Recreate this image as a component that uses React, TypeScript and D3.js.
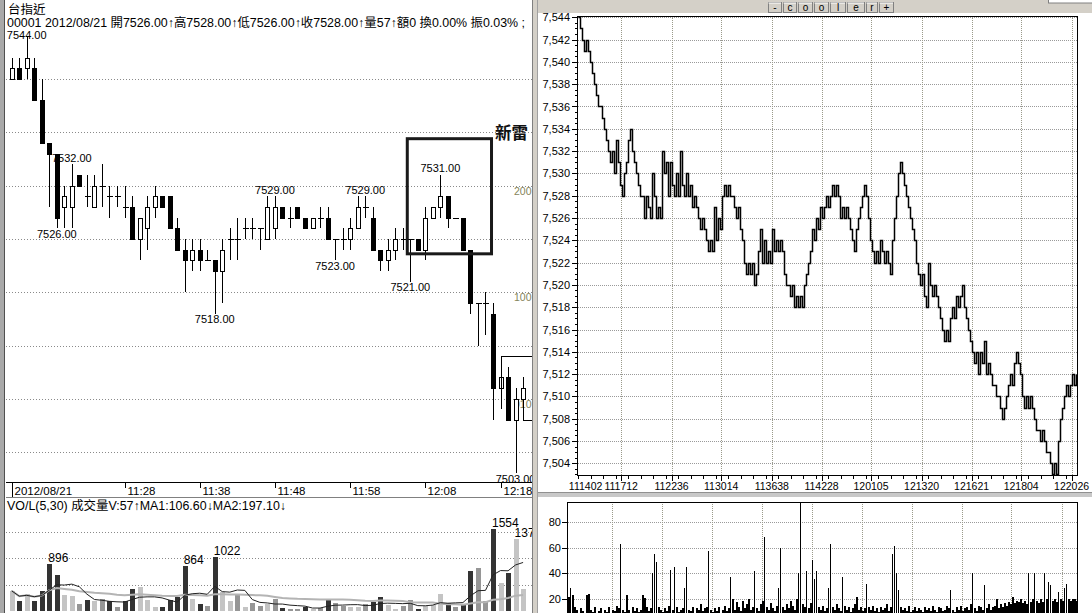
import React from 'react';
import * as d3 from 'd3';

// ---------- Left: 1-minute candles (11:13 .. 12:21) ----------
const candleOpen = [7540,7541,7541,7541,7538,7534,7533,7528,7528,7531, 7529,7528,7530,7529,7529,7528,7528,7525,7526,7528, 7529,7529,7526,7524,7523,7524,7523,7523,7522,7525, 7525,7526,7526,7526,7525,7526,7528,7527,7528,7527, 7526,7527,7527,7525,7525,7525,7526,7528,7527,7524, 7523,7524,7525,7525,7525,7524,7527,7528,7529,7527, 7527,7524,7519,7519,7518,7511,7512,7508,7510];
const candleHigh = [7542,7542,7544,7542,7540,7534,7533,7530,7532,7531, 7531,7531,7532,7530,7530,7530,7529,7527,7529,7530, 7529,7529,7527,7525,7525,7525,7524,7523,7525,7526, 7527,7527,7527,7526,7529,7529,7528,7528,7528,7527, 7527,7528,7528,7525,7526,7527,7529,7529,7528,7524, 7525,7526,7526,7525,7525,7528,7528,7531,7529,7527, 7527,7524,7519,7520,7519,7513,7513,7511,7512];
const candleLow = [7540,7540,7540,7538,7534,7528,7526,7526,7526,7530, 7528,7528,7528,7527,7528,7527,7525,7523,7524,7527, 7528,7526,7524,7520,7522,7522,7523,7518,7519,7523, 7523,7525,7525,7524,7525,7525,7527,7526,7527,7526, 7526,7526,7525,7523,7524,7524,7526,7527,7524,7522, 7522,7523,7524,7521,7524,7523,7527,7527,7526,7527, 7524,7518,7515,7516,7508,7509,7508,7503,7508];
const candleClose = [7541,7540,7542,7538,7534,7533,7527,7529,7530,7530, 7529,7530,7530,7529,7529,7528,7525,7527,7528,7529, 7528,7526,7524,7523,7524,7523,7523,7522,7524,7525, 7525,7526,7526,7526,7528,7528,7527,7527,7527,7526, 7527,7527,7525,7525,7525,7526,7528,7528,7524,7523, 7524,7525,7525,7525,7524,7527,7528,7529,7527,7527, 7524,7519,7519,7519,7511,7512,7508,7510,7511];
const candleVolume = [383,181,329,195,383,896,691,302,282,128, 201,181,228,181,81,181,416,450,215,81, 81,201,268,864,228,128,101,1022,362,181, 329,67,148,94,128,228,60,47,47,81, 47,60,215,148,94,81,67,128,168,268, 114,47,101,201,47,101,114,329,148,81, 128,752,819,181,1554,537,731,1376,416];

const timeLabels = ['2012/08/21', '11:28', '11:38', '11:48', '11:58', '12:08', '12:18'];
const timeLabelIdx = [0, 15, 25, 35, 45, 55, 65];

const priceMarkIdx = [2, 8, 6, 27, 35, 43, 47, 53, 57, 67];
const priceMarkSide = ['high', 'high', 'low', 'low', 'high', 'low', 'high', 'low', 'high', 'low'];
const volMarkIdx = [5, 23, 27, 64, 67];

const overlayLabels = ['200', '100', '010'];
const overlayLabelPrice = [7530, 7520, 7510];

// ---------- Right: tick-by-tick prices ----------
const tickPrices = [
  7544,7543,7542,7541,7542,7541,7540,7539,7538,7537,
  7536,7536,7535,7534,7533,7532,7531,7532,7530,7533,
  7531,7529,7528,7530,7531,7533,7534,7532,7531,7530,
  7529,7528,7528,7526,7528,7527,7526,7530,7528,7526,
  7527,7526,7532,7530,7531,7528,7531,7529,7528,7530,
  7528,7532,7529,7528,7530,7528,7529,7527,7528,7527,
  7526,7525,7526,7525,7524,7523,7524,7523,7527,7524,
  7526,7525,7528,7529,7528,7529,7528,7528,7527,7526,
  7527,7525,7524,7522,7521,7522,7521,7522,7520,7521,
  7523,7525,7522,7524,7522,7523,7522,7525,7523,7524,
  7523,7524,7523,7521,7520,7520,7519,7520,7518,7519,
  7518,7519,7518,7520,7521,7522,7523,7525,7524,7526,
  7525,7527,7526,7527,7528,7527,7528,7529,7528,7529,
  7528,7526,7527,7526,7527,7526,7525,7524,7523,7525,
  7526,7527,7528,7529,7528,7526,7524,7523,7522,7523,
  7522,7524,7523,7522,7523,7522,7521,7524,7526,7528,
  7530,7531,7530,7529,7528,7527,7526,7525,7524,7522,
  7521,7520,7521,7519,7518,7522,7520,7519,7520,7519,
  7518,7517,7516,7515,7516,7515,7517,7518,7517,7519,
  7518,7519,7520,7518,7517,7516,7515,7514,7513,7514,
  7512,7514,7513,7515,7512,7513,7512,7511,7511,7510,
  7510,7509,7508,7509,7510,7511,7512,7511,7513,7514,
  7513,7512,7510,7509,7510,7509,7510,7509,7508,7507,
  7507,7506,7507,7506,7505,7505,7504,7503,7504,7503,
  7506,7508,7509,7510,7511,7510,7511,7512,7511,7512,
];
const tickTimeLabels = ['111402','111712','112236','113014','113638','114228','120105','121320','121621','121804','122026'];
const tickTimeIdx = [3.8, 21.6, 46.8, 71.6, 96.9, 121.8, 146.5, 171.8, 196.8, 221.6, 246.8];
const tickVolGridIdx = [21.75, 46.95, 72.1, 97.1, 121.95, 146.75, 171.95, 196.75, 221.6, 246.8];

const tickVolumes = [
  22,29,23,14,12,9,13,11,8,23,24,12,10,14,9,
  11,13,8,12,10,14,9,12,11,15,13,63,12,10,23,
  12,9,14,11,13,10,12,23,21,14,11,13,40,55,49,
  14,12,10,13,11,15,43,12,45,14,10,12,13,29,45,
  12,11,14,9,13,12,16,11,13,14,57,12,10,13,11,
  14,9,12,15,11,13,37,20,12,18,14,11,19,13,16,
  20,12,14,42,13,11,16,19,68,14,12,17,13,11,15,
  29,60,14,12,16,13,19,15,12,20,40,95,16,14,42,
  13,17,50,36,42,14,12,15,11,13,29,63,14,12,16,
  13,11,37,15,12,14,10,13,16,22,12,14,11,13,32,
  14,12,15,11,13,10,14,12,13,16,11,14,55,61,40,
  27,14,12,13,11,15,10,12,14,11,13,12,10,14,12,
  13,11,15,12,10,14,13,11,12,15,13,27,12,10,14,
  12,15,11,13,14,12,16,40,13,11,15,14,12,31,13,
  16,12,14,15,20,13,16,14,17,15,18,16,22,17,19,
  18,20,17,19,16,40,18,20,40,19,17,20,18,40,20,
  33,31,19,20,18,26,20,19,29,32,20,19,20,20,19,
];

const toolbarButtons = ['-', 'c', 'o', 'o', 'l', 'e', 'r', '+'];

const FONT = "'Liberation Sans', Arial, 'Noto Sans CJK TC', sans-serif";
const CJK = "'Liberation Sans', 'Noto Sans CJK TC', sans-serif";

export default function App() {
  const px = (v: number) => Math.round(v) + 0.5;

  // left scales
  const xL = d3.scaleLinear().domain([0, 68]).range([11.7, 523.1]);
  const yL = d3.scaleLinear().domain([7505, 7540]).range([452.1, 79]);
  const yV = d3.scaleLinear().domain([0, 1500]).range([611, 532.1]);

  // right scales
  const xR = d3.scaleLinear().domain([0, 249]).range([578, 1076]);
  const yR = d3.scaleLinear().domain([7504, 7544]).range([463.3, 17.3]);
  const xRV = d3.scaleLinear().domain([0, 254]).range([568, 1076]);
  const yRV = d3.scaleLinear().domain([0, 80]).range([625.2, 521.6]);

  const ma = (n: number) => candleVolume.map((_, i) => d3.mean(candleVolume.slice(Math.max(0, i - n + 1), i + 1)) as number);
  const ma1 = ma(5);
  const ma2 = ma(30);
  const maLine = d3.line<number>().x((_, i) => xL(i)).y(d => yV(d));

  const tickLine = d3.line<number>()
    .x((_, i) => px(xR(i)))
    .y(d => px(yR(d)))
    .curve(d3.curveStepAfter);

  const volColor = (i: number) => {
    const prev = i === 0 ? candleOpen[0] : candleClose[i - 1];
    if (candleClose[i] > prev) return '#c4c4c4';
    if (candleClose[i] < prev) return '#333333';
    return '#969696';
  };

  const priceGrid = d3.range(7505, 7541, 5);
  const rightPriceTicks = d3.range(7504, 7545, 2);
  const rightMinor = d3.range(7503, 7544.01, 0.5);
  const rightMinorX = d3.range(0, 250, 6.25);

  // toolbar layout
  const btnW = [13, 13, 14, 14, 15, 17, 11, 14];
  let bx = 768;
  const btns = toolbarButtons.map((b, k) => { const o = { b, x: bx, w: btnW[k] }; bx += btnW[k] + 2; return o; });

  return (
    <svg width={1092} height={613} style={{ position: 'absolute', left: 0, top: 0, background: '#fff' }}
      xmlns="http://www.w3.org/2000/svg">
      <defs>
        <clipPath id="lclip"><rect x={6} y={0} width={526} height={613} /></clipPath>
        <clipPath id="rclip"><rect x={578} y={16} width={499} height={460} /></clipPath>
        <clipPath id="rvclip"><rect x={568} y={502} width={509} height={120} /></clipPath>
      </defs>
      <rect x={0} y={0} width={1092} height={613} fill="#fff" />

      {/* ================= LEFT PANEL ================= */}
      <rect x={0} y={0} width={4} height={613} fill="#a9a9a9" />
      <line x1={4.5} y1={0} x2={4.5} y2={613} stroke="#505050" />
      <text x={8} y={14} fontSize={12.5} fontFamily={CJK} fill="#000">台指近</text>
      <g clipPath="url(#lclip)">
        <text x={7} y={27} fontSize={12} fontFamily={CJK} fill="#000" textLength={518} lengthAdjust="spacingAndGlyphs">00001 2012/08/21 開7526.00↑高7528.00↑低7526.00↑收7528.00↑量57↑額0 換0.00% 振0.03% ;</text>

        {priceGrid.map(p => (
          <line key={'g' + p} x1={6} x2={532} y1={px(yL(p))} y2={px(yL(p))} stroke="#8a8a8a" strokeDasharray="1 2" />
        ))}
        {overlayLabels.map((t, k) => (
          <text key={'ol' + k} x={514} y={yL(overlayLabelPrice[k]) + 9} fontSize={10.5} fontFamily={FONT} fill="#85855a">{t}</text>
        ))}

        {/* candles */}
        {candleOpen.map((o, i) => {
          const c = candleClose[i];
          const cx = px(xL(i));
          const top = Math.min(yL(o), yL(c));
          const bot = Math.max(yL(o), yL(c));
          const up = c > o;
          return (
            <g key={'c' + i} shapeRendering="crispEdges">
              <line x1={cx} x2={cx} y1={Math.round(yL(candleHigh[i]))} y2={Math.round(yL(candleLow[i]))} stroke="#000" />
              {o === c ? (
                <line x1={cx - 3} x2={cx + 3} y1={px(yL(o))} y2={px(yL(o))} stroke="#000" />
              ) : (
                <rect x={cx - 2} y={Math.round(top) + 0.5} width={4} height={Math.round(bot) - Math.round(top)}
                  fill={up ? '#fff' : '#000'} stroke="#000" />
              )}
            </g>
          );
        })}

        {/* price annotations */}
        {priceMarkIdx.map((i, k) => {
          const hi = priceMarkSide[k] === 'high';
          const v = hi ? candleHigh[i] : candleLow[i];
          const y = hi ? Math.max(yL(v) - 2.5, 39) : yL(v) + 9.5;
          return <text key={'pm' + k} x={xL(i)} y={y} textAnchor="middle" fontSize={11} fontFamily={FONT} fill="#000">{v.toFixed(2)}</text>;
        })}

        {/* stop-line overlay */}
        <path d={`M${px(xL(65))},${px(yL(7511))}V${px(yL(7514))}H533`} fill="none" stroke="#000" shapeRendering="crispEdges" />
        <path d={`M${px(xL(68))},${px(yL(7509))}V${px(yL(7508))}H533`} fill="none" stroke="#000" shapeRendering="crispEdges" />

        {/* box + label */}
        <rect x={xL(52.6)} y={yL(7534.4)} width={xL(63.8) - xL(52.6)} height={yL(7523.6) - yL(7534.4)}
          fill="none" stroke="#1a1a1a" strokeWidth={3} />
        <text x={495} y={139} fontSize={16.5} fontWeight="bold" fontFamily="'Noto Sans CJK TC', sans-serif" fill="#111">新雷</text>

        {/* time axis */}
        <line x1={6} x2={532} y1={482.5} y2={482.5} stroke="#000" />
        <line x1={6} x2={532} y1={497.5} y2={497.5} stroke="#808080" />
        {timeLabels.map((t, k) => {
          const x = px(xL(timeLabelIdx[k]));
          return (
            <g key={'t' + k}>
              <line x1={x} x2={x} y1={483} y2={k === 0 ? 497 : 488} stroke="#000" />
              <text x={x + 2} y={495} fontSize={11.5} fontFamily={FONT} fill="#000">{t}</text>
            </g>
          );
        })}

        {/* volume panel */}
        <text x={7} y={510} fontSize={12} fontFamily={CJK} fill="#000" textLength={279} lengthAdjust="spacingAndGlyphs">VO/L(5,30) 成交量V:57↑MA1:106.60↓MA2:197.10↓</text>
        {[500, 1000, 1500].map(v => (
          <line key={'vg' + v} x1={6} x2={532} y1={px(yV(v))} y2={px(yV(v))} stroke="#8a8a8a" strokeDasharray="1 2" />
        ))}
        {candleVolume.map((v, i) => (
          <rect key={'v' + i} x={Math.round(xL(i)) - 2} y={yV(v)} width={5} height={yV(0) - yV(v)} fill={volColor(i)} shapeRendering="crispEdges" />
        ))}
        <path d={maLine(ma2) || ''} fill="none" stroke="#b4b4b4" strokeWidth={2} />
        <path d={maLine(ma1) || ''} fill="none" stroke="#222" strokeWidth={1} />
        {volMarkIdx.map(i => (
          <text key={'vm' + i} x={xL(i) - 1} y={yV(candleVolume[i]) - 2} fontSize={12} fontFamily={FONT} fill="#000">{candleVolume[i]}</text>
        ))}
      </g>
      <line x1={532.5} x2={532.5} y1={0} y2={613} stroke="#808080" />
      <rect x={533} y={0} width={4} height={613} fill="#d4d0c8" />
      <line x1={537.5} x2={537.5} y1={0} y2={613} stroke="#a0a0a0" />

      {/* ================= RIGHT PANEL ================= */}
      {rightPriceTicks.map(p => (
        <line key={'rg' + p} x1={578} x2={1077} y1={px(yR(p))} y2={px(yR(p))} stroke="#9a9a9a" strokeDasharray="1 1" />
      ))}
      {tickTimeIdx.slice(1).map((t, k) => (
        <line key={'rvx' + k} x1={px(xR(t))} x2={px(xR(t))} y1={16} y2={476} stroke="#9a9a8a" strokeDasharray="1 1" />
      ))}
      <g clipPath="url(#rclip)">
        <path d={tickLine(tickPrices) || ''} fill="none" stroke="#000" strokeWidth={1.5} />
      </g>
      <rect x={577.5} y={16.5} width={500} height={459} fill="none" stroke="#000" shapeRendering="crispEdges" />
      {rightPriceTicks.map(p => (
        <g key={'ry' + p}>
          <line x1={572} x2={578} y1={px(yR(p))} y2={px(yR(p))} stroke="#000" />
          <text x={570} y={yR(p) + 4} textAnchor="end" fontSize={11} fontFamily={FONT} fill="#000">{d3.format(',')(p)}</text>
        </g>
      ))}
      {rightMinor.map(p => (
        yR(p) > 16 && yR(p) < 476 ? <line key={'rm' + p} x1={575} x2={578} y1={px(yR(p))} y2={px(yR(p))} stroke="#000" /> : null
      ))}
      {rightMinorX.map(t => (
        <line key={'rmx' + t} x1={px(xR(t))} x2={px(xR(t))} y1={476} y2={479} stroke="#000" />
      ))}
      {tickTimeLabels.map((t, k) => (
        <g key={'rx' + k}>
          {k > 0 && <line x1={px(xR(tickTimeIdx[k]))} x2={px(xR(tickTimeIdx[k]))} y1={476} y2={481} stroke="#000" />}
          <text x={xR(tickTimeIdx[k])} y={490} textAnchor="middle" fontSize={10.5} fontFamily={FONT} fill="#000">{t}</text>
        </g>
      ))}

      {/* separator */}
      <rect x={538} y={493} width={554} height={4} fill="#c8c8c8" />
      <line x1={538} x2={1092} y1={492.5} y2={492.5} stroke="#909090" />

      {/* tick volume panel */}
      {[20, 40, 60, 80].map(v => (
        <g key={'vy' + v}>
          <line x1={568} x2={1077} y1={px(yRV(v))} y2={px(yRV(v))} stroke="#9a9a9a" strokeDasharray="1 1" />
          <line x1={562} x2={568} y1={px(yRV(v))} y2={px(yRV(v))} stroke="#000" />
          <text x={561} y={yRV(v) + 4} textAnchor="end" fontSize={11} fontFamily={FONT} fill="#000">{v}</text>
        </g>
      ))}
      {tickVolGridIdx.map((t, k) => (
        <line key={'vgx' + k} x1={px(xRV(t))} x2={px(xRV(t))} y1={502} y2={613} stroke="#9a9a8a" strokeDasharray="1 1" />
      ))}
      <g clipPath="url(#rvclip)">
        {tickVolumes.map((v, i) => (
          <rect key={'tv' + i} x={Math.round(xRV(i))} y={yRV(v)} width={v > 24 ? 1 : 2} height={yRV(0) - yRV(v)} fill="#000" shapeRendering="crispEdges" />
        ))}
      </g>
      <rect x={567.5} y={502.5} width={510} height={130} fill="none" stroke="#000" shapeRendering="crispEdges" />

      {/* toolbar */}
      <rect x={538} y={0} width={554} height={13} fill="#d4d0c8" />
      {btns.map((b, k) => (
        <g key={'b' + k}>
          <rect x={b.x + 0.5} y={2.5} width={b.w} height={10} fill="#d4d0c8" stroke="#808080" />
          <line x1={b.x + 0.5} x2={b.x + b.w} y1={3} y2={3} stroke="#fff" />
          <text x={b.x + b.w / 2 + 0.5} y={11} textAnchor="middle" fontSize={10} fontFamily={FONT} fill="#000">{b.b}</text>
        </g>
      ))}
      <rect x={1048.5} y={-1} width={44} height={4} fill="#fff" stroke="#808080" />
    </svg>
  );
}
